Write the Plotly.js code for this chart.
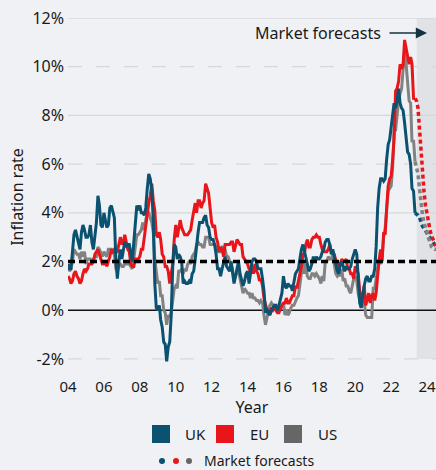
<!DOCTYPE html>
<html><head><meta charset="utf-8">
<script src="https://cdn.plot.ly/plotly-3.0.1.min.js"></script>
<style>html,body{margin:0;padding:0;background:#f0f1f4;}#chart{width:436px;height:470px;}</style>
</head><body><div id="chart"></div>
<script>
// ---- data (monthly, Jan 2004 .. May 2023) ----
const actualStart = [2004, 1];
const ukActual = [
1.9,1.7,1.7,2.3,3.1,3.3,3.0,2.7,2.5,3.2,3.5,3.3,
3.0,3.0,3.1,3.5,2.8,2.5,3.2,3.6,4.7,4.3,3.5,3.4,
4.0,3.6,3.4,3.5,4.2,4.3,4.1,3.8,2.1,1.3,2.0,2.5,
2.1,2.4,2.8,2.6,2.7,2.7,2.4,2.0,2.8,3.5,4.3,4.1,
4.3,4.0,4.0,3.9,4.2,5.0,5.6,5.4,4.9,3.7,1.1,0.1,
0.0,0.2,-0.4,-0.7,-1.3,-1.4,-2.1,-1.5,-1.3,-0.2,1.8,2.7,
2.6,2.1,2.3,2.2,2.0,1.1,1.2,1.1,1.1,1.2,1.1,1.5,
1.6,2.1,2.7,3.2,3.6,3.6,3.6,3.8,3.9,3.5,3.4,3.0,
2.9,2.9,2.7,2.3,1.7,1.7,1.4,1.7,2.0,2.2,1.8,1.7,
1.6,2.0,1.5,1.1,1.4,1.8,2.0,1.5,1.2,1.0,1.2,1.5,
1.6,1.1,1.5,2.0,2.1,2.1,2.0,1.7,1.7,1.7,1.3,0.8,
-0.1,0.0,-0.1,-0.2,0.0,0.1,0.2,0.2,0.0,0.2,0.5,0.7,
1.4,1.0,0.9,1.1,1.0,1.0,0.8,1.1,1.5,1.6,1.7,2.1,
2.5,2.7,2.4,2.2,1.9,1.6,1.7,1.9,2.2,2.0,2.2,2.1,
2.1,2.2,2.4,2.5,2.8,2.9,2.9,2.7,2.3,2.5,2.2,1.9,
1.6,1.5,1.9,2.0,1.8,1.6,1.8,1.7,1.7,1.8,2.1,2.3,
2.5,2.3,1.5,0.3,0.1,0.6,1.0,1.3,1.4,1.2,1.2,1.4,
1.4,1.7,2.6,4.2,5.0,5.4,5.4,5.3,5.4,6.2,6.8,7.0,
7.5,7.9,8.5,8.3,8.6,9.1,8.5,8.3,8.2,7.7,7.1,6.5,
6.4,6.0,5.0,4.9,4.0];
const euActual = [
1.4,1.3,1.1,1.2,1.5,1.6,1.4,1.3,1.1,1.2,1.5,1.7,
1.6,1.7,1.9,1.9,1.9,2.0,2.3,2.4,2.5,2.3,2.1,1.9,
1.9,2.0,1.8,2.0,2.2,2.5,2.4,2.5,2.4,2.4,2.7,3.0,
2.7,2.8,3.1,2.8,2.5,2.4,1.9,1.8,1.8,2.1,2.1,2.1,
2.2,2.5,2.5,3.0,3.3,3.8,4.4,4.7,5.2,4.5,4.1,3.1,
3.0,3.2,2.9,2.3,2.2,1.8,1.8,1.6,1.1,1.5,1.9,2.9,
3.5,3.0,3.4,3.7,3.4,3.2,3.1,3.1,3.1,3.2,3.3,3.7,
4.0,4.4,4.0,4.5,4.5,4.2,4.4,4.5,5.2,5.0,4.8,4.2,
3.6,3.4,3.5,3.0,2.8,2.4,2.6,2.5,2.2,2.7,2.7,2.7,
2.7,2.8,2.8,2.4,2.7,2.9,2.8,2.7,2.7,2.2,2.1,2.0,
1.9,1.7,1.6,1.8,1.5,1.9,1.6,1.5,1.2,1.3,1.0,0.5,
0.3,0.0,0.0,-0.1,0.1,0.0,0.1,0.0,-0.1,-0.1,0.1,0.2,
0.3,0.3,0.5,0.3,0.3,0.5,0.6,0.6,1.0,0.9,1.2,1.6,
1.8,2.3,2.3,2.7,2.9,2.6,2.6,2.9,3.0,3.0,3.1,3.0,
3.0,2.7,2.5,2.4,2.4,2.4,2.5,2.7,2.4,2.4,2.3,2.1,
1.8,1.9,1.9,2.1,2.0,2.0,2.1,1.7,1.7,1.5,1.5,1.3,
1.8,1.7,1.5,0.8,0.5,0.6,1.0,0.2,0.5,0.7,0.3,0.6,
0.7,0.4,0.7,1.5,2.1,2.5,2.0,3.2,3.1,4.2,5.1,5.4,
5.5,6.2,7.0,9.0,9.1,9.4,10.1,9.9,10.1,11.1,10.7,10.5,
10.1,10.4,10.1,8.7,8.7];
const usActual = [
1.9,1.6,1.7,2.0,2.5,2.4,2.3,2.3,2.1,2.4,2.2,2.4,
1.9,2.1,2.1,2.1,2.0,2.1,2.2,2.2,2.6,2.5,2.3,2.2,
2.4,2.3,2.2,2.5,2.5,2.5,2.4,2.3,1.7,1.6,1.9,1.9,
1.8,1.8,1.9,1.9,1.9,1.9,1.8,1.7,2.1,2.6,3.1,3.1,
3.2,3.3,3.6,3.3,3.7,4.0,4.0,3.8,3.6,3.2,2.1,1.6,
1.1,1.2,0.6,0.6,0.0,-0.1,-0.6,-0.2,-0.3,-0.1,0.5,0.9,
1.0,0.9,1.6,1.6,1.7,1.5,1.7,1.6,1.9,2.0,1.9,2.2,
2.3,2.4,2.7,2.8,2.7,2.7,2.6,2.6,3.0,3.0,3.0,2.7,
2.7,2.7,2.7,2.6,2.4,2.4,2.4,2.6,2.6,2.5,2.2,2.2,
2.0,1.8,1.7,1.2,1.4,1.6,1.6,1.3,1.1,0.7,0.9,0.8,
0.7,0.7,0.5,0.7,0.5,0.5,0.4,0.4,0.3,0.4,0.3,-0.2,
-0.6,-0.3,-0.1,0.2,0.3,0.2,0.2,0.1,-0.1,0.1,0.1,0.2,
0.3,-0.2,0.0,-0.2,-0.1,0.1,0.2,0.2,0.4,0.5,0.6,1.1,
1.7,2.0,1.5,1.9,1.4,1.3,1.3,1.5,1.5,1.4,1.5,1.4,
1.3,1.1,1.4,1.2,2.0,2.0,2.2,2.1,2.1,2.3,1.9,1.5,
1.4,1.5,1.4,1.7,1.2,1.3,1.0,1.0,0.8,0.7,1.0,1.3,
1.4,1.2,0.7,0.3,0.1,0.3,0.4,-0.2,-0.3,-0.3,-0.3,-0.3,
0.9,0.9,1.3,1.6,2.0,1.9,2.2,3.0,3.4,4.1,4.9,5.0,
5.1,5.9,7.4,7.4,8.1,8.6,8.9,9.1,9.9,10.6,10.1,9.2,
8.6,8.5,6.9,7.0,6.1];
// market forecasts, monthly from May 2023
const forecastStart = [2023, 5];
const ukForecast = [4.0,3.95,3.9,3.8,3.6,3.45,3.35,3.25,3.15,3.05,3.0,2.85,2.75,2.7,2.65];
const euForecast = [8.7,8.6,8.3,7.3,6.3,5.6,4.85,4.3,3.9,3.55,3.3,3.05,2.9,2.75,2.65];
const usForecast = [6.1,5.9,5.6,5.0,4.4,3.9,3.6,3.35,3.15,2.95,2.8,2.6,2.55,2.5,2.5];
const forecastFrom = '2023-06-05';
const seriesNames = ['UK','EU','US'];
const xTickVals = ['2004-01-01','2006-01-01','2008-01-01','2010-01-01','2012-01-01','2014-01-01','2016-01-01','2018-01-01','2020-01-01','2022-01-01','2024-01-01'];
const xTickText = ['04','06','08','10','12','14','16','18','20','22','24'];
const yTickVals = [-2,0,2,4,6,8,10,12];
const yTickText = ['-2%','0%','2%','4%','6%','8%','10%','12%'];

// ---- helpers ----
const xRange = ['2004-01-01','2024-07-01'];
function monthDates(start, n){
  const out=[];
  for(let i=0;i<n;i++){
    const t=start[0]*12+(start[1]-1)+i;
    const yy=Math.floor(t/12), mm=t%12+1;
    out.push(yy+'-'+String(mm).padStart(2,'0')+'-01');
  }
  return out;
}
const cBlue='#0b5170', cRed='#e8161b', cGray='#828282', cGrayLeg='#666666';
const textColor='#1a1a1a';

function actual(vals,color,name){
  return {type:'scatter',mode:'lines',name:name,x:monthDates(actualStart,vals.length),y:vals,
    line:{color:color,width:3},hoverinfo:'skip'};
}
function forecast(vals,color,name){
  return {type:'scatter',mode:'lines',name:name+' forecast',x:monthDates(forecastStart,vals.length),y:vals,
    line:{color:color,width:3.5,dash:'4px,3px'},hoverinfo:'skip'};
}
const traces=[
  actual(usActual,cGray,seriesNames[2]),
  actual(euActual,cRed,seriesNames[1]),
  actual(ukActual,cBlue,seriesNames[0]),
  forecast(ukForecast,cBlue,seriesNames[0]),
  forecast(usForecast,cGray,seriesNames[2]),
  forecast(euForecast,cRed,seriesNames[1])
];

const shapes=[];
// forecast shading
shapes.push({type:'rect',xref:'x',yref:'y',x0:forecastFrom,x1:xRange[1],y0:-2,y1:12,
  fillcolor:'#e1e2e5',line:{width:0},layer:'below'});
// gridlines: alternate solid / dashed (same layer as shading, drawn after it)
yTickVals.forEach(function(v){
  if(v===0||v===2) return;
  const dashed = ((v/2)%2!==0); // 10,6,-2 dashed
  shapes.push({type:'line',xref:'x',yref:'y',x0:xRange[0],x1:xRange[1],y0:v,y1:v,layer:'below',
    line:{color:'#d6d7da',width:1.3,dash:dashed?'14px,14px':'solid'}});
});
// zero line
shapes.push({type:'line',xref:'x',yref:'y',x0:xRange[0],x1:xRange[1],y0:0,y1:0,layer:'below',
  line:{color:'#111111',width:1.6}});
// 2% target line (above)
shapes.push({type:'line',xref:'x',yref:'y',x0:xRange[0],x1:xRange[1],y0:2,y1:2,layer:'above',
  line:{color:'#000000',width:3.5,dash:'7px,4px'}});

// legend (manual) – plot area: left 68, width 368, bottom 376, height 358
function px(xp){return (xp-68)/368;}
function py(yp){return (376-yp)/358;}
const legColors=[cBlue,cRed,cGrayLeg];
const sqLeft=[152,216,284];
const txtLeft=[183,248,316];
const annotations=[];
for(let i=0;i<3;i++){
  shapes.push({type:'rect',xref:'paper',yref:'paper',x0:px(sqLeft[i]),x1:px(sqLeft[i]+18),
    y0:py(443),y1:py(425),fillcolor:legColors[i],line:{width:0}});
  annotations.push({xref:'paper',yref:'paper',x:px(txtLeft[i]),y:py(434),xanchor:'left',yanchor:'middle',
    text:seriesNames[i],showarrow:false,font:{size:15,color:textColor}});
}
const dotX=[162,176,189];
for(let i=0;i<3;i++){
  shapes.push({type:'circle',xref:'paper',yref:'paper',xsizemode:'pixel',ysizemode:'pixel',
    xanchor:px(dotX[i]),yanchor:py(461),x0:-3,x1:3,y0:-3,y1:3,
    fillcolor:legColors[i],line:{width:0}});
}
annotations.push({xref:'paper',yref:'paper',x:px(202),y:py(461),xanchor:'left',yanchor:'middle',
  text:'Market forecasts',showarrow:false,font:{size:14,color:textColor}});
// in-plot label and arrow
annotations.push({xref:'paper',yref:'paper',x:px(383),y:py(33),xanchor:'right',yanchor:'middle',
  text:'Market forecasts',showarrow:false,font:{size:16,color:textColor}});
annotations.push({xref:'paper',yref:'paper',x:px(427),y:py(33),text:'',showarrow:true,
  ax:-39,ay:0,arrowhead:2,arrowsize:1.4,arrowwidth:1.6,arrowcolor:'#14323f'});

const layout={
  width:436,height:470,
  margin:{l:68,r:0,t:18,b:94,pad:0},
  paper_bgcolor:'#f0f1f4',plot_bgcolor:'#f0f1f4',
  font:{family:'Noto Sans, Open Sans, sans-serif',color:textColor},
  showlegend:false,
  xaxis:{type:'date',range:xRange,tickmode:'array',tickvals:xTickVals,ticktext:xTickText,
    tickfont:{size:15,color:textColor},showgrid:false,zeroline:false,showline:false,ticks:'',
    ticklabeloverflow:'allow',
    title:{text:'Year',font:{size:16,color:textColor},standoff:4},fixedrange:true},
  yaxis:{range:[-2.7,12],tickmode:'array',tickvals:yTickVals,ticktext:yTickText,
    tickfont:{size:16,color:textColor},showgrid:false,zeroline:false,showline:false,ticks:'',
    ticklabelstandoff:3,
    title:{text:'Inflation rate',font:{size:16,color:textColor},standoff:4},fixedrange:true},
  shapes:shapes,annotations:annotations
};
Plotly.newPlot('chart',traces,layout,{staticPlot:true,displayModeBar:false});
</script></body></html>
